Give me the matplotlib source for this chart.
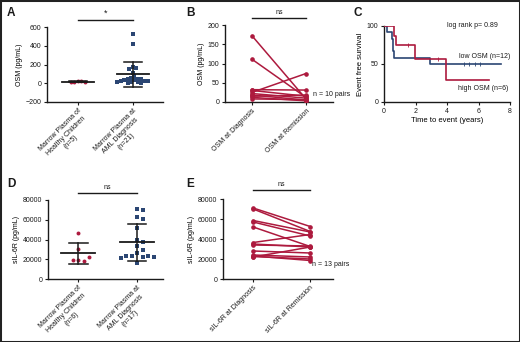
import numpy as np
import matplotlib
matplotlib.use("Agg")
import matplotlib.pyplot as plt
from matplotlib.patches import Rectangle

plt.rcParams['font.family'] = ['Liberation Sans', 'DejaVu Sans']

RED = '#ad1a3e'
BLUE = '#2b4673'
INK = '#1a1a1a'

# ---- data ----
# A: OSM in marrow plasma
osm_healthy = [25, 20, 16, 14, 12]
osm_aml = [525, 420, 175, 165, 150, 110, 75, 55, 50, 45, 40, 36, 32, 28, 25,
           22, 18, 14, 10, 6, 3]
a_labels = ['Marrow Plasma of\nHealthy Children\n(n=5)',
            'Marrow Plasma at\nAML Diagnosis\n(n=21)']

# B: paired OSM, diagnosis -> remission
osm_dx = [172, 111, 25, 32, 30, 22, 18, 15, 12, 8]
osm_rem = [8, 12, 74, 31, 15, 10, 5, 18, 3, 6]
b_labels = ['OSM at Diagnosis', 'OSM at Remission']

# C: Kaplan-Meier event free survival
low_t = [0, 0.17, 0.5, 0.55, 0.6, 0.63, 2.95, 7.45]
low_s = [100, 91.7, 83.3, 75, 66.7, 58.3, 50, 50]
low_cens_t = [5.1, 5.4, 5.8, 6.1]
high_t = [0, 0.65, 0.75, 1.95, 3.95, 6.65]
high_s = [100, 87.5, 75, 56.5, 28.5, 28.5]
high_cens_t = [1.55, 3.4]
high_cens_s = [75, 56.5]

# D: sIL-6R in marrow plasma
il6r_healthy = [46250, 30050, 19240, 18570, 19240, 21940]
il6r_aml = [70900, 70220, 62450, 60430, 52000, 40000, 37500, 33500, 29000,
            26000, 23630, 22620, 23290, 23630, 21940, 20930, 16540]
d_labels = ['Marrow Plasma of\nHealthy Children\n(n=6)',
            'Marrow Plasma at\nAML Diagnosis\n(n=17)']

# E: paired sIL-6R, diagnosis -> remission
il6r_dx = [71000, 70000, 58500, 57000, 52000, 36500, 35000, 34000, 28000,
           24000, 22000, 22500, 23000]
il6r_rem = [52500, 47500, 47000, 43000, 32500, 44500, 32000, 33000, 26000,
            22000, 32000, 20000, 18500]
e_labels = ['sIL-6R at Diagnosis', 'sIL-6R at Remission']

W, H = 520, 342
fig = plt.figure(figsize=(W / 100, H / 100), dpi=100)


def axes_px(left, right, top, bottom):
    return fig.add_axes([left / W, 1 - bottom / H, (right - left) / W, (bottom - top) / H])


def style(ax):
    for s in ('top', 'right'):
        ax.spines[s].set_visible(False)
    for s in ('left', 'bottom'):
        ax.spines[s].set_linewidth(1.0)
        ax.spines[s].set_color(INK)
    ax.tick_params(labelsize=5, length=2.5, width=0.8, pad=1.5, colors=INK)


def swarm(ax, x0, vals, d_px):
    # simple beeswarm: shift each point sideways until it clears the others
    tr = ax.transData
    pts = tr.transform(np.column_stack([np.full(len(vals), x0), vals]))
    placed = []
    for px, py in pts:
        for k in range(60):
            done = False
            for sg in ([0] if k == 0 else [1, -1]):
                cx = px + sg * k * d_px * 0.5
                if all((cx - qx) ** 2 + (py - qy) ** 2 >= d_px ** 2 for qx, qy in placed):
                    placed.append((cx, py))
                    done = True
                    break
            if done:
                break
    return tr.inverted().transform(np.array(placed))


def mean_sd(ax, x0, vals):
    m = np.mean(vals)
    sd = np.std(vals, ddof=1)
    ax.plot([x0 - 0.29, x0 + 0.29], [m, m], color=INK, lw=1.3, zorder=4)
    ax.plot([x0, x0], [m - sd, m + sd], color=INK, lw=1.1, zorder=4)
    for y in (m - sd, m + sd):
        ax.plot([x0 - 0.16, x0 + 0.16], [y, y], color=INK, lw=1.1, zorder=4)


def sig_bar(ax, y, text):
    tr = ax.get_xaxis_transform()
    ax.plot([0, 1], [y, y], color=INK, lw=1.0, transform=tr, clip_on=False)
    ax.text(0.5, y + 0.03, text, transform=tr, ha='center', va='bottom',
            fontsize=5 if text == 'ns' else 6.5, color=INK)


def cat_labels(ax, labels):
    ax.set_xticks([0, 1])
    ax.set_xticklabels(labels, rotation=45, ha='right', rotation_mode='anchor',
                       multialignment='center', fontsize=5)


def dot_panel(ax, groups, colors, markers, ylim, yticks, ylabel, labels, d_px):
    style(ax)
    ax.set_ylim(*ylim)
    ax.set_yticks(yticks)
    cat_labels(ax, labels)
    ax.set_ylabel(ylabel, fontsize=5, labelpad=2)
    for i, (vals, c, mk) in enumerate(zip(groups, colors, markers)):
        xy = swarm(ax, i, vals, d_px)
        ax.scatter(xy[:, 0], xy[:, 1], s=8, color=c, marker=mk, lw=0, zorder=3)
        mean_sd(ax, i, vals)


def pair_panel(ax, dx, rem, ylim, yticks, ylabel, labels):
    style(ax)
    ax.set_ylim(*ylim)
    ax.set_yticks(yticks)
    cat_labels(ax, labels)
    ax.set_ylabel(ylabel, fontsize=5, labelpad=2)
    for a, b in zip(dx, rem):
        ax.plot([0, 1], [a, b], '-o', color=RED, lw=1.1, markersize=2.3, zorder=3)


# A
axA = axes_px(47, 163, 27, 102)
axA.set_xlim(-0.56, 1.55)
dot_panel(axA, [osm_healthy, osm_aml], [RED, BLUE], ['o', 's'], (-200, 600),
          [-200, 0, 200, 400, 600], 'OSM (pg/mL)', a_labels, 3.4)
sig_bar(axA, 1.093, '*')

# B
axB = axes_px(225, 333, 25, 102)
axB.set_xlim(-0.5, 1.5)
pair_panel(axB, osm_dx, osm_rem, (0, 200), [0, 50, 100, 150, 200], 'OSM (pg/mL)', b_labels)
sig_bar(axB, 1.09, 'ns')
fig.text(313 / W, 1 - 94 / H, 'n = 10 pairs', fontsize=5, va='center', color=INK)

# C
axC = axes_px(384, 510, 26, 102)
style(axC)
axC.set_xlim(0, 8)
axC.set_ylim(0, 100)
axC.set_xticks([0, 2, 4, 6, 8])
axC.set_yticks([0, 50, 100])
axC.step(low_t, low_s, where='post', color=BLUE, lw=1.2, zorder=3)
axC.step(high_t, high_s, where='post', color=RED, lw=1.2, zorder=4)
axC.plot(low_cens_t, [low_s[-1]] * len(low_cens_t), '|', color=BLUE, markersize=2.5, mew=0.6)
axC.plot(high_cens_t, high_cens_s, '|', color=RED, markersize=2.5, mew=0.6)
axC.set_xlabel('Time to event (years)', fontsize=5.5, labelpad=2)
axC.set_ylabel('Event free survival', fontsize=5.5, labelpad=2)
axC.text(7.2, 101, 'log rank p= 0.89', fontsize=5, ha='right', va='center', color=INK)
axC.text(8.0, 60.5, 'low OSM (n=12)', fontsize=5, ha='right', va='center',
         color=INK, clip_on=False)
axC.text(7.9, 18.4, 'high OSM (n=6)', fontsize=5, ha='right', va='center',
         color=INK, clip_on=False)

# D
axD = axes_px(48, 163, 200, 279)
axD.set_xlim(-0.51, 1.44)
dot_panel(axD, [il6r_healthy, il6r_aml], [RED, BLUE], ['o', 's'], (0, 80000),
          [0, 20000, 40000, 60000, 80000], 'sIL-6R (pg/mL)', d_labels, 5.5)
sig_bar(axD, 1.089, 'ns')

# E
axE = axes_px(223, 333, 199, 279)
axE.set_xlim(-0.53, 1.4)
pair_panel(axE, il6r_dx, il6r_rem, (0, 80000), [0, 20000, 40000, 60000, 80000],
           'sIL-6R (pg/mL)', e_labels)
sig_bar(axE, 1.11, 'ns')
fig.text(312 / W, 1 - 265 / H, 'n = 13 pairs', fontsize=5, va='center', color=INK)

# panel letters
for lab, x, y in [('A', 7, 13), ('B', 186, 13), ('C', 353, 13), ('D', 7, 184), ('E', 186, 184)]:
    fig.text(x / W, 1 - y / H, lab, fontsize=8.5, fontweight='bold', va='center', color=INK)

fig.patches.append(Rectangle((0, 0), 1, 1, transform=fig.transFigure, fill=False,
                             lw=2.2, ec='#222222'))

fig.savefig('out.png', dpi=100)
